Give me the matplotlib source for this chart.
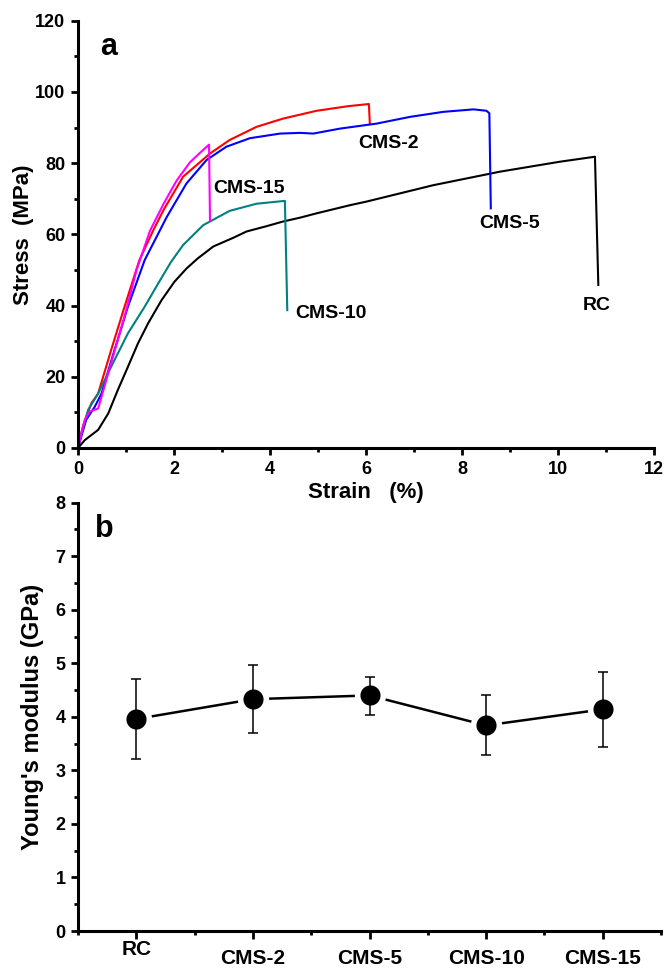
import numpy as np
import matplotlib
matplotlib.use("Agg")
import matplotlib.pyplot as plt
from matplotlib.transforms import ScaledTranslation

plt.rcParams['font.family'] = ['Liberation Sans', 'DejaVu Sans']
plt.rcParams['font.weight'] = 'bold'

# stress-strain curves (strain %, stress MPa)
rc_x = [0, 0.14, 0.42, 0.63, 0.83, 1.04, 1.25, 1.46, 1.74, 2.01, 2.26, 2.5, 2.82, 3.23, 3.51, 3.93,
        4.27, 4.63, 4.97, 5.67, 6.01, 7.40, 8.79, 10.04, 10.77, 10.84]
rc_y = [0, 2.2, 5.1, 9.7, 16.3, 22.8, 29.4, 35.0, 41.5, 46.7, 50.4, 53.3, 56.6, 59.0, 60.8, 62.3,
        63.6, 64.7, 65.9, 68.2, 69.2, 73.8, 77.6, 80.4, 81.8, 45.8]

cms2_x = [0, 0.10, 0.28, 0.42, 0.69, 0.97, 1.28, 1.57, 1.78, 2.19, 2.75, 3.16, 3.72, 4.27, 4.97,
          5.63, 6.06, 6.08]
cms2_y = [0, 6.0, 12.6, 15.3, 27.5, 39.7, 52.8, 61.2, 66.8, 76.2, 82.7, 86.5, 90.2, 92.5, 94.7,
          96.0, 96.6, 91.1]

cms5_x = [0, 0.17, 0.35, 0.49, 0.76, 1.04, 1.39, 1.85, 2.26, 2.68, 3.09, 3.58, 4.21, 4.63, 4.90,
          5.46, 6.22, 6.92, 7.61, 8.24, 8.51, 8.57, 8.60]
cms5_y = [0, 7.9, 11.6, 15.3, 27.5, 39.7, 52.8, 64.9, 74.3, 80.9, 84.6, 87.0, 88.3, 88.5, 88.3,
          89.7, 91.1, 93.0, 94.4, 95.1, 94.7, 94.0, 67.3]

cms10_x = [0, 0.07, 0.21, 0.42, 0.69, 1.04, 1.39, 1.67, 1.94, 2.19, 2.61, 3.16, 3.72, 4.31, 4.36]
cms10_y = [0, 4.0, 10.7, 15.3, 22.8, 32.2, 39.7, 46.2, 52.3, 57.0, 62.6, 66.6, 68.6, 69.4, 38.7]

cms15_x = [0, 0.14, 0.24, 0.42, 0.69, 0.97, 1.22, 1.50, 1.78, 2.05, 2.33, 2.55, 2.73, 2.75]
cms15_y = [0, 7.9, 10.2, 11.1, 23.8, 36.9, 50.0, 61.0, 68.5, 75.0, 80.2, 83.0, 85.2, 63.8]

curve_names = ['RC', 'CMS-2', 'CMS-5', 'CMS-10', 'CMS-15']
curve_colors = ['black', '#ff0000', '#0000ff', '#008080', '#ff00ff']
# label anchors (strain, stress at text baseline)
label_x = [10.52, 5.84, 8.35, 4.52, 2.81]
label_y = [38.7, 84.2, 61.8, 36.5, 71.6]

# Young's modulus (GPa)
samples = ['RC', 'CMS-2', 'CMS-5', 'CMS-10', 'CMS-15']
modulus = [3.96, 4.33, 4.40, 3.84, 4.14]
err_low = [0.75, 0.64, 0.37, 0.56, 0.71]
err_high = [0.75, 0.64, 0.35, 0.56, 0.70]

fig = plt.figure(figsize=(6.67, 9.68), dpi=100)

# ---- panel a ----
ax1 = fig.add_axes([78/667, 1-448/968, (654-78)/667, (448-20.7)/968])
curves = [(rc_x, rc_y), (cms2_x, cms2_y), (cms5_x, cms5_y), (cms10_x, cms10_y), (cms15_x, cms15_y)]
for (cx, cy), c in zip(curves, curve_colors):
    ax1.plot(cx, cy, color=c, lw=1.5)

ax1.set_xlim(0, 12)
ax1.set_ylim(0, 120)
ax1.set_xticks(range(0, 13, 2))
ax1.set_xticks(range(1, 12, 2), minor=True)
ax1.set_yticks(range(0, 121, 20))
ax1.set_yticks(range(10, 120, 20), minor=True)
ax1.set_xlabel('Strain   (%)', fontsize=16, fontweight='bold', labelpad=3)
ax1.set_ylabel('Stress  (MPa)', fontsize=16, fontweight='bold', labelpad=1)

for name, lx, ly in zip(curve_names, label_x, label_y):
    ax1.text(lx, ly, name, fontsize=14, fontweight='bold', ha='left', va='baseline')
ax1.text(0.038, 0.92, 'a', transform=ax1.transAxes, fontsize=22, fontweight='bold', va='baseline')

# ---- panel b ----
ax2 = fig.add_axes([78/667, 1-931/968, (661-78)/667, (931-502.7)/968])
pos = np.arange(1, len(samples)+1)
ax2.plot(pos, modulus, color='black', lw=1.8, marker='o', markersize=18.5,
         markerfacecolor='black', markeredgecolor='white', markeredgewidth=4, zorder=2)
ax2.errorbar(pos, modulus, yerr=[err_low, err_high], fmt='none', ecolor='black',
             elinewidth=1.1, capsize=3.4, capthick=1.1, zorder=3)
ax2.set_xlim(0.5, 5.5)
ax2.set_ylim(0, 8)
ax2.set_xticks(pos)
ax2.set_xticklabels(samples)
ax2.set_xticks(np.arange(0.5, 5.6, 1), minor=True)
ax2.set_yticks(range(0, 9))
ax2.set_yticks(np.arange(0.5, 8, 1), minor=True)
ax2.set_ylabel("Young's modulus (GPa)", fontsize=17, fontweight='bold', labelpad=8)
ax2.text(0.029, 0.92, 'b', transform=ax2.transAxes, fontsize=22, fontweight='bold', va='baseline')

for ax in (ax1, ax2):
    ax.spines['top'].set_visible(False)
    ax.spines['right'].set_visible(False)
    ax.spines['left'].set_linewidth(2.2)
    ax.spines['bottom'].set_linewidth(2.2)
    ax.tick_params(which='major', direction='out', length=5, width=2, labelsize=13, pad=4)
    ax.tick_params(which='minor', direction='out', length=3, width=2)
    for t in ax.get_xticklabels() + ax.get_yticklabels():
        t.set_fontweight('bold')
    ax.patch.set_visible(False)

ax2.tick_params(axis='x', which='major', length=6, labelsize=15, pad=7)
# RC label sits a little higher in the original
rc_lab = ax2.get_xticklabels()[0]
rc_lab.set_transform(rc_lab.get_transform() + ScaledTranslation(0, 9/100, fig.dpi_scale_trans))

fig.savefig('out.png', dpi=100)
